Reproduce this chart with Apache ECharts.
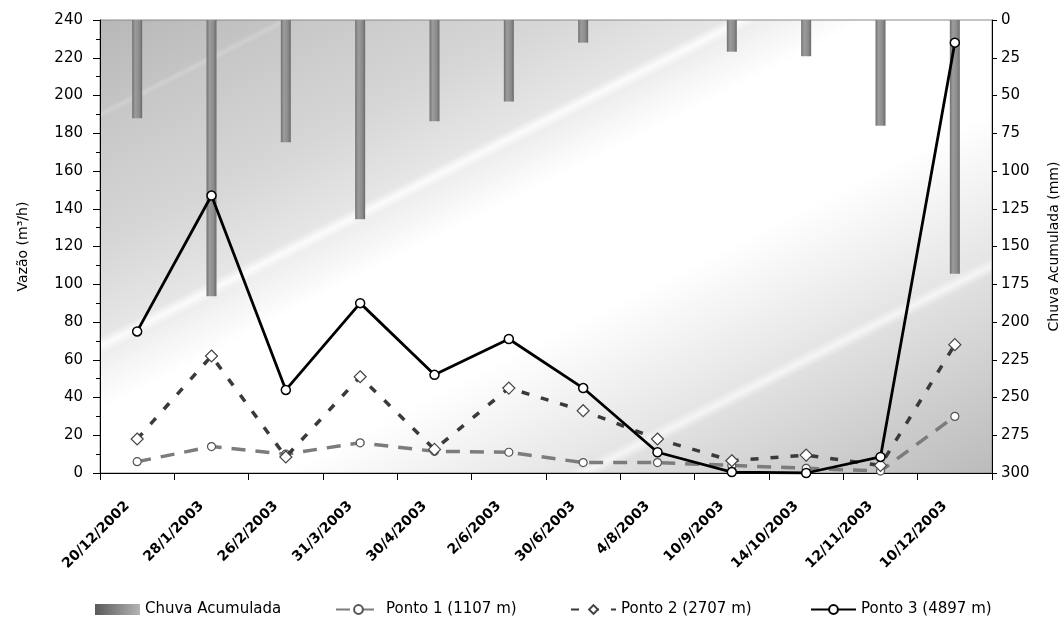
<!DOCTYPE html>
<html>
<head>
<meta charset="utf-8">
<script src="https://cdn.jsdelivr.net/npm/echarts@6/dist/echarts.min.js"></script>
<style>html,body{margin:0;padding:0;background:#fff;}#c{width:1063px;height:622px;}</style>
</head>
<body>
<div id="c"></div>
<script>
var categories = ['20/12/2002','28/1/2003','26/2/2003','31/3/2003','30/4/2003','2/6/2003','30/6/2003','4/8/2003','10/9/2003','14/10/2003','12/11/2003','10/12/2003'];
var chuva = [65, 183, 81, 132, 67, 54, 15, 0, 21, 24, 70, 168];
var ponto1 = [6, 14, 10, 16, 11.5, 11, 5.5, 5.5, 4, 2.5, 1, 30];
var ponto2 = [18, 62, 8.5, 51, 12.5, 45, 33, 18, 6.5, 9.5, 4, 68];
var ponto3 = [75, 147, 44, 90, 52, 71, 45, 11, 0.5, 0, 8.5, 228];
var leftTicks = {min: 0, max: 240, interval: 20};
var rightTicks = {min: 0, max: 300, interval: 25};

var FONT = 'DejaVu Sans';
var chart = echarts.init(document.getElementById('c'));

var bg = {
  type: 'linear', x: 0, y: 0, x2: 0.41, y2: 1.59,
  colorStops: [
    {offset: 0, color: '#b7b7b7'},
    {offset: 0.1, color: '#c4c4c4'},
    {offset: 0.105, color: '#d0d0d0'},
    {offset: 0.11, color: '#c7c7c7'},
    {offset: 0.25, color: '#d6d6d6'},
    {offset: 0.35, color: '#e6e6e6'},
    {offset: 0.36, color: '#fbfbfb'},
    {offset: 0.37, color: '#eeeeee'},
    {offset: 0.43, color: '#ffffff'},
    {offset: 0.6, color: '#ffffff'},
    {offset: 0.76, color: '#e5e5e5'},
    {offset: 0.77, color: '#f5f5f5'},
    {offset: 0.78, color: '#e0e0e0'},
    {offset: 1, color: '#bbbbbb'}
  ]
};
var barGrad = {
  type: 'linear', x: 0, y: 0, x2: 1, y2: 0,
  colorStops: [
    {offset: 0, color: '#707070'},
    {offset: 0.3, color: '#9c9c9c'},
    {offset: 0.7, color: '#8c8c8c'},
    {offset: 1, color: '#6a6a6a'}
  ]
};
var legendGrad = {
  type: 'linear', x: 0, y: 0, x2: 1, y2: 0,
  colorStops: [
    {offset: 0, color: '#5a5a5a'},
    {offset: 1, color: '#b4b4b4'}
  ]
};
var legText = {fontFamily: FONT, fontSize: 15, color: '#000'};
function leg(name, left, icon) {
  var o = {data: [name], left: left, top: 597, itemWidth: 45, itemHeight: 11, itemGap: 0, textStyle: legText};
  if (icon) { o.data = [{name: name, itemStyle: {color: legendGrad}}]; o.icon = 'rect'; }
  return o;
}

var option = {
  animation: false,
  backgroundColor: '#fff',
  grid: {left: 100, right: 71, top: 20, bottom: 149, outerBoundsMode: 'none', containLabel: false, show: true, backgroundColor: bg, borderColor: '#8a8a8a', borderWidth: 1},
  legend: [
    leg('Chuva Acumulada', 90, true),
    leg('Ponto 1 (1107 m)', 330),
    leg('Ponto 2 (2707 m)', 565),
    leg('Ponto 3 (4897 m)', 805)
  ],
  xAxis: {
    type: 'category', data: categories, boundaryGap: true,
    axisLine: {lineStyle: {color: '#000', width: 1}},
    axisTick: {show: true, length: 7, lineStyle: {color: '#000'}},
    axisLabel: {rotate: 45, interval: 0, margin: 21, padding: [0, 14, 0, 0], fontFamily: FONT, fontSize: 14, fontWeight: 'bold', color: '#000'},
    splitLine: {show: false}
  },
  yAxis: [
    {
      type: 'value', min: leftTicks.min, max: leftTicks.max, interval: leftTicks.interval,
      name: 'Vazão (m³/h)', nameLocation: 'middle', nameGap: 70, nameRotate: 90,
      nameTextStyle: {fontFamily: FONT, fontSize: 14, color: '#000'},
      axisLine: {show: true, lineStyle: {color: '#000'}},
      axisTick: {show: true, length: 7, lineStyle: {color: '#000'}},
      minorTick: {show: true, splitNumber: 2, length: 4, lineStyle: {color: '#000'}},
      axisLabel: {fontFamily: FONT, fontSize: 15, color: '#000', margin: 17},
      splitLine: {show: false}
    },
    {
      type: 'value', position: 'right', inverse: true, min: rightTicks.min, max: rightTicks.max, interval: rightTicks.interval,
      name: 'Chuva Acumulada (mm)', nameLocation: 'middle', nameGap: 55, nameRotate: 90,
      nameTextStyle: {fontFamily: FONT, fontSize: 14, color: '#000'},
      axisLine: {show: true, lineStyle: {color: '#000'}},
      axisTick: {show: true, length: 5, lineStyle: {color: '#000'}},
      axisLabel: {fontFamily: FONT, fontSize: 15, color: '#000', margin: 9},
      splitLine: {show: false}
    }
  ],
  series: [
    {
      name: 'Chuva Acumulada', type: 'bar', yAxisIndex: 1, data: chuva, barWidth: 10,
      itemStyle: {color: barGrad}, z: 1
    },
    {
      name: 'Ponto 1 (1107 m)', type: 'line', data: ponto1, z: 3,
      symbol: 'circle', symbolSize: 8, showSymbol: true,
      itemStyle: {color: '#fff', borderColor: '#555', borderWidth: 1.2},
      lineStyle: {color: '#7c7c7c', width: 3.5, type: [14, 10]}
    },
    {
      name: 'Ponto 2 (2707 m)', type: 'line', data: ponto2, z: 4,
      symbol: 'diamond', symbolSize: 12, showSymbol: true,
      itemStyle: {color: '#fff', borderColor: '#444', borderWidth: 1.2},
      lineStyle: {color: '#3a3a3a', width: 3.5, type: [8, 12]}
    },
    {
      name: 'Ponto 3 (4897 m)', type: 'line', data: ponto3, z: 5,
      symbol: 'circle', symbolSize: 9, showSymbol: true,
      itemStyle: {color: '#fff', borderColor: '#000', borderWidth: 1.5},
      lineStyle: {color: '#000', width: 2.8}
    }
  ]
};
chart.setOption(option);
</script>
</body>
</html>
